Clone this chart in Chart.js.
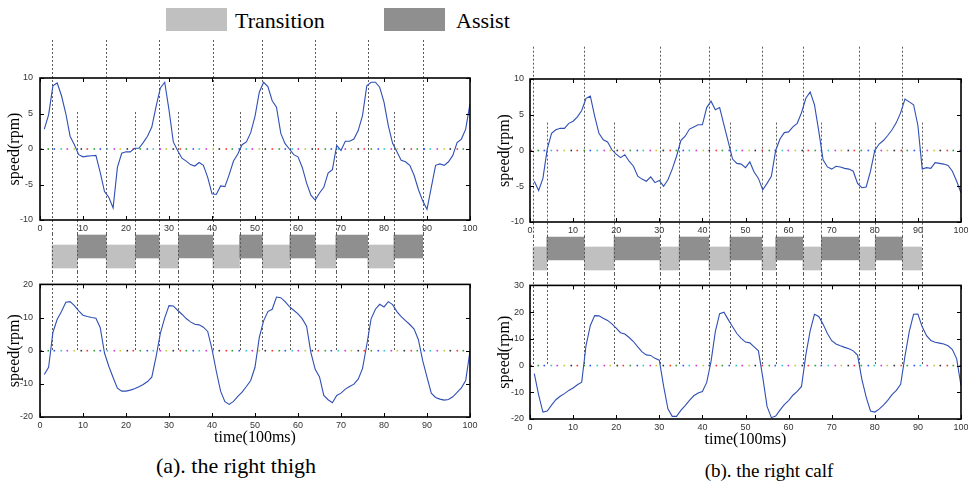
<!DOCTYPE html>
<html><head><meta charset="utf-8">
<script src="https://cdn.jsdelivr.net/npm/chart.js@4.4.1/dist/chart.umd.min.js"></script>
<style>
html,body{margin:0;padding:0;background:#fff;}
body{width:968px;height:484px;position:relative;overflow:hidden;font-family:'Liberation Serif','Times New Roman',serif;}
canvas{position:absolute;}
.lg-box{position:absolute;top:8px;width:61px;height:23px;}
.txt{position:absolute;white-space:nowrap;color:#000;line-height:1;}
</style></head><body>

<div class="lg-box" style="left:166px;background:#c0c0c0"></div>
<div class="txt" style="left:235px;top:10px;font-size:22px">Transition</div>
<div class="lg-box" style="left:384px;background:#8f8f8f"></div>
<div class="txt" style="left:456px;top:10px;font-size:22px">Assist</div>

<canvas id="lt" width="480" height="198" style="left:0;top:36px"></canvas>
<canvas id="lb" width="480" height="38" style="left:0;top:234px"></canvas>
<canvas id="lbo" width="480" height="178" style="left:0;top:272px"></canvas>
<canvas id="rt" width="478" height="196" style="left:490px;top:40px"></canvas>
<canvas id="rb" width="478" height="38" style="left:490px;top:236px"></canvas>
<canvas id="rbo" width="478" height="178" style="left:490px;top:274px"></canvas>

<div class="txt" style="left:136px;width:200px;text-align:center;top:455px;font-size:22px">(a). the right thigh</div>
<div class="txt" style="left:669px;width:200px;text-align:center;top:461px;font-size:19px">(b). the right calf</div>

<script>
// ---------- data ----------
const timeSteps = [1,2,3,4,5,6,7,8,9,10,11,12,13,14,15,16,17,18,19,20,
  21,22,23,24,25,26,27,28,29,30,31,32,33,34,35,36,37,38,39,40,
  41,42,43,44,45,46,47,48,49,50,51,52,53,54,55,56,57,58,59,60,
  61,62,63,64,65,66,67,68,69,70,71,72,73,74,75,76,77,78,79,80,
  81,82,83,84,85,86,87,88,89,90,91,92,93,94,95,96,97,98,99,100];

const thighTop = [2.8,4.8,8.9,9.3,7.5,5.0,1.8,0.6,-0.8,-1.1,
  -1.0,-0.95,-0.9,-3.3,-6.0,-6.8,-8.3,-2.6,-0.6,-0.4,
  -0.4,0.1,0.1,0.9,1.8,3.1,6.0,8.6,9.4,5.5,
  1.0,-0.2,-1.3,-1.7,-2.2,-2.4,-1.9,-2.3,-4.0,-6.3,
  -6.4,-5.2,-5.3,-3.6,-1.7,-0.7,0.6,1.0,2.3,4.6,
  8.0,9.4,8.8,6.8,5.9,2.2,0.75,0.0,-0.8,-1.1,
  -2.6,-4.8,-6.5,-7.2,-6.2,-5.4,-3.4,-2.9,0.5,-0.2,
  1.1,1.1,1.4,2.6,4.7,8.9,9.4,9.4,8.7,6.6,
  3.3,0.8,-0.4,-1.6,-1.8,-2.3,-3.7,-5.7,-7.3,-8.5,
  -5.4,-2.3,-2.1,-2.3,-1.8,-0.9,0.9,1.4,2.8,6.4];

const thighBottom = [-7.2,-5.0,5.5,9.5,11.8,14.6,14.8,13.6,12.0,10.7,
  10.3,10.0,9.8,7.0,-0.7,-4.7,-8.1,-11.3,-12.2,-12.2,
  -11.9,-11.5,-10.9,-10.2,-9.3,-8.0,-1.8,5.3,9.9,13.6,
  13.5,12.2,11.0,9.7,8.7,8.0,7.8,7.1,5.8,0.5,
  -6.2,-12.2,-15.4,-16.2,-15.3,-13.8,-12.5,-10.8,-9.0,-5.0,
  4.0,9.0,11.8,12.5,16.2,16.0,14.8,13.3,12.2,11.1,
  9.6,7.4,-0.6,-5.6,-7.9,-13.5,-14.8,-15.7,-13.5,-12.8,
  -11.6,-10.8,-10.1,-8.6,-5.4,1.8,9.6,12.5,14.0,13.2,
  14.8,13.9,11.8,10.3,9.1,7.9,6.5,3.3,-3.0,-8.0,
  -12.8,-14.1,-14.6,-14.9,-14.7,-13.9,-12.6,-11.2,-9.0,-0.1];

const calfTop = [-4.3,-5.6,-3.9,0.2,2.4,2.9,3.1,3.1,3.8,4.1,
  4.7,5.6,7.3,7.6,4.8,2.4,1.5,1.2,0.1,-0.5,
  -1.0,-0.6,-1.5,-2.2,-3.6,-4.0,-4.3,-3.7,-4.5,-4.2,
  -5.0,-4.1,-2.6,-0.8,1.4,2.0,3.0,3.3,3.6,3.6,
  6.0,6.9,5.7,6.0,3.6,1.2,-1.2,-1.8,-1.9,-2.4,
  -1.6,-3.0,-3.9,-5.5,-4.6,-3.6,0.0,1.6,2.5,2.6,
  3.3,3.8,5.3,7.3,8.2,6.4,2.7,-1.3,-2.3,-2.6,
  -2.2,-2.3,-2.5,-2.6,-2.9,-4.6,-5.2,-5.1,-2.9,0.0,
  0.9,1.4,2.1,2.9,3.9,5.3,7.2,6.8,6.4,3.5,
  -2.6,-2.4,-2.5,-1.7,-1.8,-1.9,-2.1,-2.9,-4.3,-5.9];

const calfBottom = [-3.0,-11.0,-17.4,-17.0,-14.8,-12.8,-11.5,-10.5,-9.3,-8.4,
  -7.2,-6.2,7.5,15.0,18.7,18.6,17.7,16.9,15.6,14.0,
  12.3,11.8,10.5,9.0,7.0,5.1,4.0,3.8,2.7,2.0,
  -7.7,-16.2,-19.0,-19.0,-16.8,-15.0,-13.0,-11.3,-10.3,-9.7,
  -6.3,1.5,12.7,19.4,20.0,17.2,14.5,12.0,10.2,8.8,
  8.5,7.0,5.5,-4.3,-15.3,-19.5,-18.9,-16.7,-14.6,-13.1,
  -11.1,-9.7,-7.8,4.0,13.0,19.2,18.4,15.5,12.0,9.3,
  8.1,7.4,6.8,6.3,5.5,3.9,-5.2,-11.8,-17.0,-17.4,
  -16.3,-14.8,-13.0,-10.9,-9.3,-7.0,3.5,12.8,19.2,19.3,
  14.5,11.2,9.4,8.7,8.4,8.1,7.4,6.0,2.5,-7.5];

// phases [start, end] in time units
const thighTransition = [[2.8,8.7],[15.4,22.2],[27.7,32.2],[40.2,46.4],[51.7,58.1],[64.0,68.8],[76.2,82.3]];
const thighAssist = [[8.7,15.4],[22.2,27.7],[32.2,40.2],[46.4,51.7],[58.1,64.0],[68.8,76.2],[82.3,89.0]];
const thighMarksTall = [2.8,15.4,27.7,40.2,51.7,64.0,76.2,89.0];
const thighMarksShort = [8.7,22.2,32.2,46.4,58.1,68.8,82.3];

const calfTransition = [[0.7,3.9],[12.6,19.5],[30.1,34.6],[41.5,46.4],[53.8,57.0],[63.3,67.6],[76.4,80.1],[86.4,90.9]];
const calfAssist = [[3.9,12.6],[19.5,30.1],[34.6,41.5],[46.4,53.8],[57.0,63.3],[67.6,76.4],[80.1,86.4]];
const calfMarksTall = [0.7,12.6,30.1,41.5,53.8,63.3,76.4,86.4];
const calfMarksShort = [3.9,19.5,34.6,46.4,57.0,67.6,80.1,90.9];

// tick labels
const xTickValues = [0,10,20,30,40,50,60,70,80,90,100];
const yTicksTop = [-10,-5,0,5,10];
const yTicksThighBottom = [-20,-10,0,10,20];
const yTicksCalfBottom = [-20,-10,0,10,20,30];

// ---------- plugins ----------
const tickFont = {family:'Liberation Sans', size:9};
const titleFont = {family:'Liberation Serif', size:16};

function drawPhase(chart, o){
  const {ctx, scales:{x,y}} = chart; const H = chart.height;
  ctx.save(); ctx.strokeStyle='#5a5a5a'; ctx.lineWidth=1; ctx.setLineDash([2,2]);
  const line=(v,y0,y1)=>{const px=Math.round(x.getPixelForValue(v))+0.5; ctx.beginPath(); ctx.moveTo(px,y0); ctx.lineTo(px,y1); ctx.stroke();};
  if(o.mode==='top'){
    o.tall.forEach(v=>line(v,o.tallTop,H));
    const sy=y.getPixelForValue(o.shortTop);
    o.short.forEach(v=>line(v,sy,H));
  } else if(o.mode==='bars'){
    o.tall.concat(o.short).forEach(v=>line(v,0,H));
  } else {
    const zy=y.getPixelForValue(0);
    o.tall.concat(o.short).forEach(v=>line(v,0,zy));
  }
  ctx.restore();
}
const phasePlugin = {
  id:'phaseLines',
  beforeDatasetsDraw(chart,args,o){ if(o.mode && o.mode!=='bars') drawPhase(chart,o); },
  afterDatasetsDraw(chart,args,o){ if(o.mode==='bars') drawPhase(chart,o); }
};
const dotColors = ['#ff3030','#30a030','#3050ff','#30c8c8','#d830d8','#c8c830','#303030'];
const zeroPlugin = {
  id:'zeroDots',
  beforeDatasetsDraw(chart){
    const {ctx, chartArea:a, scales:{y}} = chart;
    const zy = y.getPixelForValue(0);
    ctx.save();
    let i=0;
    for(let px=a.left+1; px<=a.right; px+=6.6, i++){
      ctx.fillStyle = dotColors[i%dotColors.length];
      ctx.fillRect(Math.round(px)-0.5, zy-0.8, 1.6, 1.6);
    }
    ctx.restore();
  }
};
const boxPlugin = {
  id:'matlabBox',
  afterDraw(chart){
    const {ctx, chartArea:a, scales:{x,y}} = chart;
    ctx.save(); ctx.strokeStyle='#000'; ctx.lineWidth=1; ctx.setLineDash([]);
    const L=4;
    ctx.beginPath();
    x.ticks.forEach(t=>{const px=Math.round(x.getPixelForValue(t.value))+0.5;
      ctx.moveTo(px,a.bottom); ctx.lineTo(px,a.bottom-L); ctx.moveTo(px,a.top); ctx.lineTo(px,a.top+L);});
    y.ticks.forEach(t=>{const py=Math.round(y.getPixelForValue(t.value))+0.5;
      ctx.moveTo(a.left,py); ctx.lineTo(a.left+L,py); ctx.moveTo(a.right,py); ctx.lineTo(a.right-L,py);});
    ctx.stroke();
    ctx.lineWidth=1.6;
    ctx.strokeRect(a.left, a.top, a.right-a.left, a.bottom-a.top);
    ctx.restore();
  }
};

// ---------- builders ----------
function lineChart(id, values, yMin, yMax, yTicks, o){
  return new Chart(document.getElementById(id), {
    type:'line',
    data:{datasets:[{data: timeSteps.map((t,i)=>({x:t, y:values[i]})),
      borderColor:'#2f4fb4', borderWidth:1.1, pointRadius:0, tension:0, fill:false}]},
    plugins:[phasePlugin, zeroPlugin, boxPlugin],
    options:{
      responsive:false, animation:false, events:[],
      layout:{padding:{top:o.padTop, right:o.padRight, left:0, bottom:0}},
      plugins:{legend:{display:false}, tooltip:{enabled:false},
        phaseLines:{mode:o.mode, tall:o.tall, short:o.short, tallTop:o.tallTop, shortTop:o.shortTop}},
      scales:{
        x:{type:'linear', min:0, max:100,
          afterBuildTicks:s=>{s.ticks = xTickValues.map(v=>({value:v}));},
          afterFit:s=>{s.height=o.xHeight; s.paddingLeft=0; s.paddingRight=0;},
          grid:{display:false, drawTicks:false}, border:{display:false},
          ticks:{padding:3, font:tickFont, color:'#333', maxRotation:0, autoSkip:false},
          title: o.xTitle ? {display:true, text:'time(100ms)', font:titleFont, color:'#000', padding:{top:0,bottom:o.xTitlePad}} : {display:false}},
        y:{type:'linear', min:yMin, max:yMax,
          afterBuildTicks:s=>{s.ticks = yTicks.map(v=>({value:v}));},
          afterFit:s=>{s.width=40;},
          grid:{display:false, drawTicks:false}, border:{display:false},
          ticks:{padding:o.yPad, font:tickFont, color:'#333'},
          title:{display:true, text:'speed(rpm)', font:titleFont, color:'#000', padding:{top:5,bottom:0}}}
      }
    }
  });
}

const ASSIST_ROW = 12.5, TRANSITION_ROW = 22.5;
function barChart(id, transition, assist, tall, short, padRight){
  return new Chart(document.getElementById(id), {
    type:'bar',
    data:{datasets:[
      {label:'Assist', data: assist.map(([s,e])=>({x:[s,e], y:ASSIST_ROW})),
        backgroundColor:'#8f8f8f', borderWidth:0, barThickness:23, grouped:false},
      {label:'Transition', data: transition.map(([s,e])=>({x:[s,e], y:TRANSITION_ROW})),
        backgroundColor:'#c0c0c0', borderWidth:0, barThickness:23, grouped:false}
    ]},
    plugins:[phasePlugin],
    options:{
      indexAxis:'y', responsive:false, animation:false, events:[],
      layout:{padding:{left:40, right:padRight, top:0, bottom:0}},
      plugins:{legend:{display:false}, tooltip:{enabled:false}, phaseLines:{mode:'bars', tall, short}},
      scales:{
        x:{type:'linear', min:0, max:100, display:false, offset:false},
        y:{type:'linear', min:0, max:38, reverse:true, display:false, offset:false}
      }
    }
  });
}

// left panel: right thigh
lineChart('lt', thighTop, -10, 10, yTicksTop,
  {padTop:42, padRight:10, xHeight:14, yPad:7, mode:'top', tall:thighMarksTall, short:thighMarksShort, tallTop:4, shortTop:5.2});
barChart('lb', thighTransition, thighAssist, thighMarksTall, thighMarksShort, 10);
lineChart('lbo', thighBottom, -20, 20, yTicksThighBottom,
  {padTop:2, padRight:10, xHeight:33, yPad:7, mode:'bottom', tall:thighMarksTall, short:thighMarksShort, xTitle:true, xTitlePad:3});

// right panel: right calf
lineChart('rt', calfTop, -10, 10, yTicksTop,
  {padTop:39, padRight:7, xHeight:14, yPad:6, mode:'top', tall:calfMarksTall, short:calfMarksShort, tallTop:6.7, shortTop:3.9});
barChart('rb', calfTransition, calfAssist, calfMarksTall, calfMarksShort, 7);
lineChart('rbo', calfBottom, -20, 30, yTicksCalfBottom,
  {padTop:2, padRight:7, xHeight:33, yPad:6, mode:'bottom', tall:calfMarksTall, short:calfMarksShort, xTitle:true, xTitlePad:2.5});
</script>
</body></html>
